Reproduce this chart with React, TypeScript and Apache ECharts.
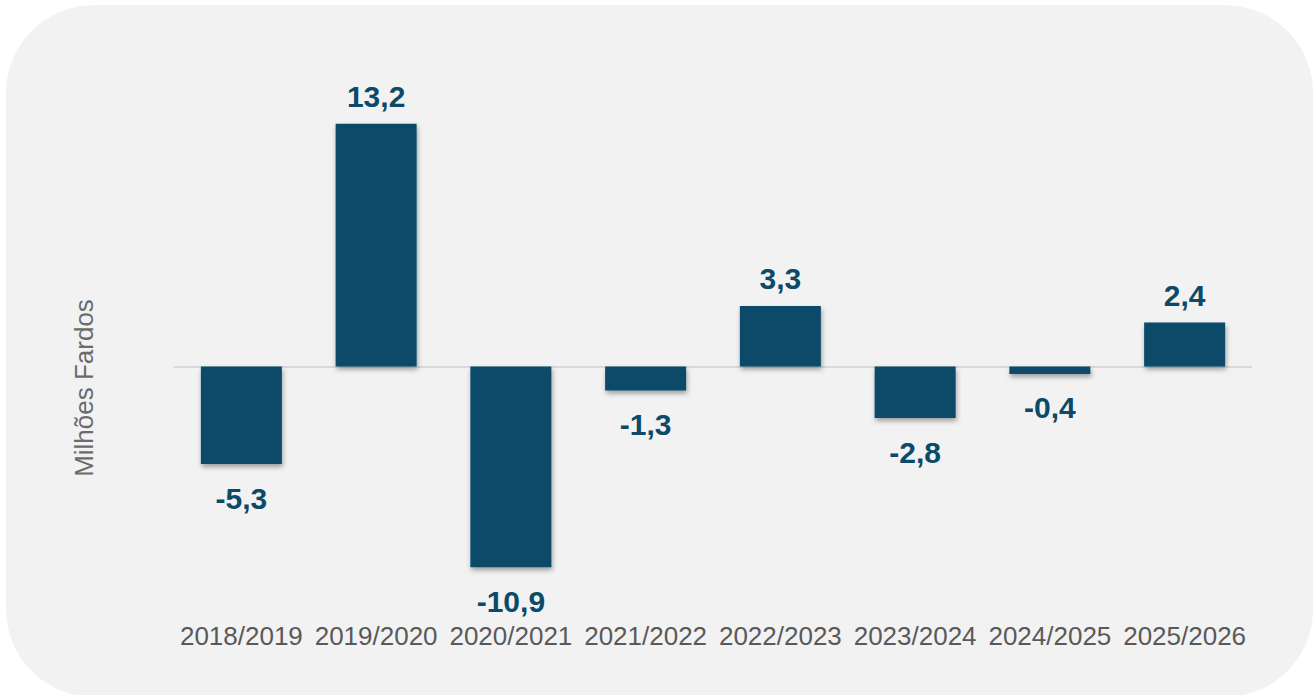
import React, { useEffect, useRef } from "react";
import * as echarts from "echarts";

const categories = ["2018/2019", "2019/2020", "2020/2021", "2021/2022", "2022/2023", "2023/2024", "2024/2025", "2025/2026"];
const values = [-5.3, 13.2, -10.9, -1.3, 3.3, -2.8, -0.4, 2.4];
const axisTitle = "Milhões Fardos";

const BAR = "#0b4a69";

export default function App() {
  const ref = useRef<HTMLDivElement>(null);
  useEffect(() => {
    document.body.style.margin = "0";
    const chart = echarts.init(ref.current!, null, { renderer: "svg" });
    chart.setOption({
      animation: false,
      backgroundColor: "#ffffff",
      textStyle: { fontFamily: "Liberation Sans, Arial, sans-serif" },
      graphic: [
        {
          type: "rect",
          z: -10,
          silent: true,
          shape: { x: 6, y: 5, width: 1307, height: 692, r: 88 },
          style: { fill: "#f2f2f2" },
        },
        {
          type: "text",
          x: 84,
          y: 388,
          rotation: Math.PI / 2,
          style: {
            text: axisTitle,
            fill: "#6b6b6b",
            font: "26px 'Liberation Sans', Arial, sans-serif",
            textAlign: "center",
            textVerticalAlign: "middle",
          },
        },
      ],
      grid: { left: 174, right: 62, top: 109, height: 478.4, containLabel: false },
      xAxis: {
        type: "category",
        data: categories,
        axisLine: { show: false, onZero: false },
        axisTick: { show: false },
        axisLabel: { color: "#595959", fontSize: 26, margin: 36, interval: 0 },
      },
      yAxis: {
        type: "value",
        min: -12,
        max: 14,
        show: false,
        splitLine: { show: false },
      },
      series: [
        {
          type: "bar",
          barWidth: 81,
          data: values.map((v) => ({
            value: v,
            label: {
              position: v < 0 ? "bottom" : "top",
              distance: v < 0 ? 19 : 12,
            },
          })),
          itemStyle: {
            color: BAR,
            shadowColor: "rgba(0,0,0,0.35)",
            shadowBlur: 5,
            shadowOffsetX: 1,
            shadowOffsetY: 3,
          },
          label: {
            show: true,
            color: BAR,
            fontSize: 30,
            fontWeight: "bold",
            formatter: (p: any) => String(p.value.toFixed(1)).replace(".", ","),
          },
          markLine: {
            silent: true,
            symbol: "none",
            label: { show: false },
            lineStyle: { color: "#d9d9d9", width: 2, type: "solid" },
            data: [{ yAxis: 0 }],
            z: 1,
          },
        },
      ],
    });
    return () => chart.dispose();
  }, []);
  return <div ref={ref} style={{ width: 1314, height: 695 }} />;
}
